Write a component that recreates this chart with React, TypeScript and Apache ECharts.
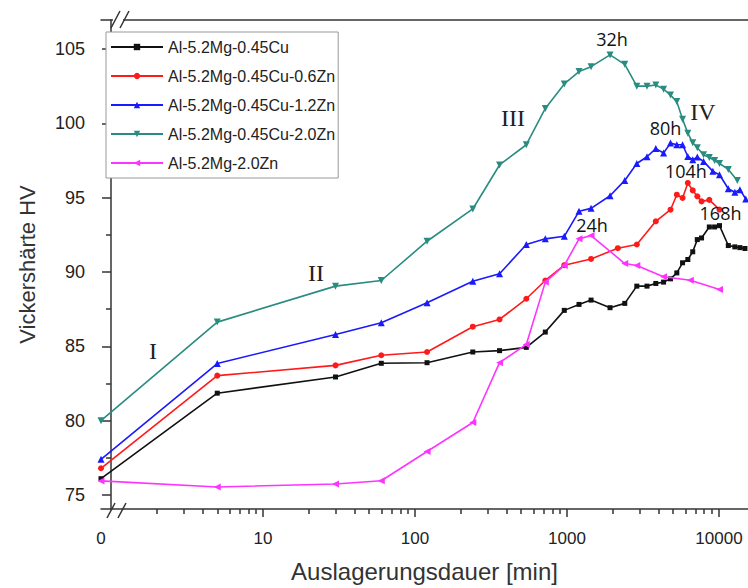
import React, { useEffect, useRef } from "react";
import * as echarts from "echarts";

// ---- data (time in minutes, hardness HV) ----
const seriesNames = [
  "Al-5.2Mg-0.45Cu",
  "Al-5.2Mg-0.45Cu-0.6Zn",
  "Al-5.2Mg-0.45Cu-1.2Zn",
  "Al-5.2Mg-0.45Cu-2.0Zn",
  "Al-5.2Mg-2.0Zn",
];

const blackTime = [0, 5, 30, 60, 120, 240, 360, 540, 720, 960, 1200, 1440, 1920, 2400, 2880, 3360, 3840, 4320, 4800, 5280, 5760, 6240, 6720, 7200, 7680, 8640, 9360, 10080, 11520, 12720, 13740, 14820];
const blackHV = [76.1, 81.85, 82.94, 83.86, 83.9, 84.62, 84.71, 84.93, 85.96, 87.42, 87.82, 88.11, 87.6, 87.89, 89.05, 89.05, 89.23, 89.32, 89.54, 89.94, 90.62, 90.84, 91.36, 92.18, 92.29, 93.03, 93.03, 93.12, 91.78, 91.69, 91.64, 91.58];

const redTime = [0, 5, 30, 60, 120, 240, 360, 540, 720, 960, 1440, 2160, 2880, 3840, 4800, 5280, 5760, 6240, 6720, 7200, 7680, 8640, 10080];
const redHV = [76.8, 83.03, 83.72, 84.4, 84.62, 86.32, 86.81, 88.2, 89.43, 90.46, 90.88, 91.6, 91.85, 93.41, 94.19, 95.2, 94.98, 95.99, 95.49, 95.09, 94.75, 94.85, 94.2];

const blueTime = [0, 5, 30, 60, 120, 240, 360, 540, 720, 960, 1200, 1440, 1920, 2400, 2880, 3360, 3840, 4320, 4800, 5280, 5760, 6240, 6720, 7200, 7920, 9120, 10080, 11520, 12720, 13740, 15000];
const blueHV = [77.4, 83.84, 85.8, 86.59, 87.93, 89.38, 89.88, 91.85, 92.23, 92.4, 94.08, 94.28, 95.13, 96.16, 97.3, 97.75, 98.3, 98.0, 98.67, 98.56, 98.56, 97.77, 97.55, 97.73, 97.44, 96.77, 96.54, 95.6, 95.36, 95.54, 94.91];

const tealTime = [0, 5, 30, 60, 120, 240, 360, 540, 720, 960, 1200, 1440, 1920, 2400, 2880, 3360, 3840, 4320, 4800, 5280, 5760, 6240, 6720, 7200, 7920, 8640, 9360, 10080, 11520, 13200];
const tealHV = [80.0, 86.63, 89.05, 89.43, 92.07, 94.24, 97.2, 98.56, 101.0, 102.65, 103.48, 103.81, 104.6, 103.97, 102.5, 102.5, 102.58, 102.3, 101.9, 101.46, 100.28, 99.34, 98.69, 98.36, 97.89, 97.7, 97.5, 97.3, 96.9, 96.15];

const magentaTime = [0, 5, 30, 60, 120, 240, 360, 540, 720, 960, 1200, 1440, 2400, 2880, 4320, 6480, 10080];
const magentaHV = [75.95, 75.54, 75.74, 75.96, 77.93, 79.88, 83.9, 85.13, 89.32, 90.44, 92.23, 92.45, 90.57, 90.44, 89.68, 89.45, 88.83];

// peak annotations (label, time, HV)
const peakLabels = ["168h", "104h", "80h", "32h", "24h"];
const peakTime = [10080, 6240, 4800, 1920, 1440];
const peakHV = [93.12, 95.99, 98.67, 104.6, 92.45];

// stage labels
const stageLabels = ["I", "II", "III", "IV"];
const stageTime = [1.89, 22.3, 442, 7850];
const stageHV = [84.66, 89.9, 100.37, 100.77];

// axis ticks
const xMajorTicks = [1, 10, 100, 1000, 10000];
const yMajorTicks = [75, 80, 85, 90, 95, 100, 105];
const yMinorTicks = [77.5, 82.5, 87.5, 92.5, 97.5, 102.5];

// ---- scale helpers ----
const X_ZERO = -0.066; // position of "0" before the axis break
const X_MAX = 4.191;
const Y_MIN = 74.06;
const Y_MAX = 106.95;
const toX = (t: number) => (t === 0 ? X_ZERO : Math.log10(t));

const colors = ["#111111", "#ff1a1a", "#1a1aff", "#2a8c80", "#ff33ff"];
const symbols = ["rect", "circle", "triangle", "triangle", "triangle"];
const symbolRotates = [0, 0, 0, 180, 90];
const symbolSizes = [5, 6, 7, 7, 7];
const times = [blackTime, redTime, blueTime, tealTime, magentaTime];
const values = [blackHV, redHV, blueHV, tealHV, magentaHV];
const peakOffsets: [number, number][] = [[1, -13], [-2, -12], [-5, -15], [2, -16], [1, -11]];

export default function App() {
  const ref = useRef<HTMLDivElement>(null);
  useEffect(() => {
    document.body.style.margin = "0";
    const chart = echarts.init(ref.current!, null, { renderer: "svg" });

    const xMinor: number[] = [];
    for (let d = 0; d < 5; d++) {
      for (let k = 2; k <= 9; k++) {
        const v = d + Math.log10(k);
        if (v < X_MAX) xMinor.push(v);
      }
    }
    const axisLineStyle = { color: "#333", width: 1.5 };
    const labelFont = "'Liberation Sans', Arial, sans-serif";

    const series: any[] = seriesNames.map((name, i) => ({
      name,
      type: "line",
      xAxisIndex: 0,
      yAxisIndex: 0,
      symbol: symbols[i],
      symbolRotate: symbolRotates[i],
      symbolSize: symbolSizes[i],
      showSymbol: true,
      lineStyle: { width: 1.6, color: colors[i] },
      itemStyle: { color: colors[i] },
      data: times[i].map((t, j) => [toX(t), values[i][j]]),
      z: 3 + i,
      markPoint: {
        silent: true,
        symbol: "circle",
        symbolSize: 1,
        itemStyle: { color: "rgba(0,0,0,0)" },
        data: [] as any[],
      },
    }));

    // peak labels attached to each series
    peakLabels.forEach((lab, k) => {
      series[k].markPoint.data.push({
        name: lab,
        coord: [toX(peakTime[k]), peakHV[k]],
        label: {
          show: true,
          position: "inside",
          offset: peakOffsets[k],
          formatter: lab,
          fontSize: 18,
          fontFamily: "'Open Sans', sans-serif",
          color: "#111",
        },
      });
    });
    // stage labels on teal series
    stageLabels.forEach((lab, k) => {
      series[3].markPoint.data.push({
        name: lab,
        coord: [toX(stageTime[k]), stageHV[k]],
        label: {
          show: true,
          position: "inside",
          formatter: lab,
          fontSize: 24,
          fontFamily: "'Liberation Serif', serif",
          color: "#222",
        },
      });
    });

    chart.setOption({
      animation: false,
      backgroundColor: "#fff",
      grid: { left: 101, right: 0, top: 20, bottom: 78, containLabel: false },
      legend: {
        data: seriesNames,
        orient: "vertical",
        left: 106,
        top: 32,
        itemWidth: 52,
        itemHeight: 8,
        itemGap: 13,
        padding: [7, 3, 7, 4],
        borderColor: "#999",
        borderWidth: 1,
        backgroundColor: "#fff",
        textStyle: { fontSize: 16, color: "#222", fontFamily: labelFont },
      },
      xAxis: [
        {
          type: "value",
          position: "bottom",
          min: X_ZERO,
          max: X_MAX,
          axisLine: { show: true, lineStyle: axisLineStyle },
          axisTick: {
            show: true,
            inside: false,
            length: 8,
            customValues: xMajorTicks.map((t) => Math.log10(t)).filter((v) => v > 0),
            lineStyle: axisLineStyle,
          },
          axisLabel: {
            show: true,
            customValues: [X_ZERO, 1, 2, 3, 4],
            formatter: (v: number) => (v < 0.5 ? "0" : String(Math.round(Math.pow(10, v)))),
            fontSize: 17,
            color: "#222",
            fontFamily: labelFont,
            margin: 21,
          },
          splitLine: { show: false },
          name: "Auslagerungsdauer [min]",
          nameLocation: "middle",
          nameGap: 50,
          nameTextStyle: { fontSize: 24, color: "#333", fontFamily: labelFont },
        },
        {
          type: "value",
          position: "bottom",
          min: X_ZERO,
          max: X_MAX,
          axisLine: { show: false },
          axisTick: { show: true, inside: false, length: 5, customValues: xMinor, lineStyle: axisLineStyle },
          axisLabel: { show: false },
          splitLine: { show: false },
        },
        {
          type: "value",
          position: "top",
          min: X_ZERO,
          max: X_MAX,
          axisLine: { show: true, lineStyle: axisLineStyle },
          axisTick: { show: false },
          axisLabel: { show: false },
          splitLine: { show: false },
        },
      ],
      yAxis: [
        {
          type: "value",
          position: "left",
          min: Y_MIN,
          max: Y_MAX,
          axisLine: { show: true, lineStyle: axisLineStyle },
          axisTick: { show: true, inside: false, length: 9, customValues: yMajorTicks, lineStyle: axisLineStyle },
          axisLabel: {
            show: true,
            customValues: yMajorTicks,
            fontSize: 18,
            color: "#222",
            fontFamily: labelFont,
            margin: 16,
          },
          splitLine: { show: false },
          name: "Vickershärte HV",
          nameLocation: "middle",
          nameGap: 63,
          nameTextStyle: { fontSize: 22, color: "#333", fontFamily: labelFont },
        },
        {
          type: "value",
          position: "left",
          min: Y_MIN,
          max: Y_MAX,
          axisLine: { show: false },
          axisTick: { show: true, inside: false, length: 5, customValues: yMinorTicks, lineStyle: axisLineStyle },
          axisLabel: { show: false },
          splitLine: { show: false },
        },
      ],
      graphic: [
        { type: "rect", shape: { x: 113, y: 17, width: 10, height: 6 }, style: { fill: "#fff" }, z: 100 },
        { type: "line", shape: { x1: 111, y1: 28, x2: 120, y2: 11 }, style: { stroke: "#333", lineWidth: 1.5 }, z: 101 },
        { type: "line", shape: { x1: 120, y1: 28, x2: 129, y2: 11 }, style: { stroke: "#333", lineWidth: 1.5 }, z: 101 },
        { type: "line", shape: { x1: 107, y1: 518, x2: 115, y2: 503 }, style: { stroke: "#333", lineWidth: 1.5 }, z: 101 },
        { type: "line", shape: { x1: 118, y1: 518, x2: 126, y2: 503 }, style: { stroke: "#333", lineWidth: 1.5 }, z: 101 },
      ],
      series,
    });
    return () => chart.dispose();
  }, []);
  return <div ref={ref} style={{ position: "absolute", left: 0, top: 0, width: 748, height: 588 }} />;
}
